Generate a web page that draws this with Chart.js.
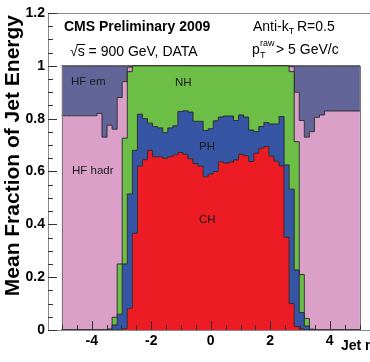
<!DOCTYPE html>
<html>
<head>
<meta charset="utf-8">
<script src="https://cdn.jsdelivr.net/npm/chart.js@4"></script>
<style>
  html, body { margin: 0; padding: 0; background: #fff; overflow: hidden; }
  #wrap { position: absolute; left: 0; top: 0; width: 370px; height: 362px; overflow: hidden; }
  canvas { display: block; }
</style>
</head>
<body>
<div id="wrap"><canvas id="fracChart" width="385" height="362"></canvas></div>
<script>
// jet eta bins: 59 bins of width 0.17, bin centred on eta = 0
const binWidth = 0.17;
const etaEdges = [];
for (let i = 0; i <= 59; i++) etaEdges.push(+(-5.015 + i * binWidth).toFixed(3));

// mean energy fractions per bin
const chFrac = [
  0, 0, 0, 0, 0, 0, 0, 0, 0, 0, 0, 0, 0.005, 0.082, 0.366,
  0.62, 0.645, 0.68, 0.656, 0.656, 0.65, 0.656, 0.663, 0.672, 0.665,
  0.648, 0.63, 0.62, 0.58, 0.59, 0.6, 0.637, 0.632, 0.636, 0.644,
  0.665, 0.66, 0.638, 0.669, 0.688, 0.695, 0.658, 0.639, 0.621, 0.351,
  0.1, 0.013, 0.004, 0, 0, 0, 0, 0, 0, 0, 0, 0, 0, 0
];
const phFrac = [
  0, 0, 0, 0, 0, 0, 0, 0, 0, 0, 0.019, 0.06, 0.245, 0.433, 0.314,
  0.197, 0.155, 0.103, 0.114, 0.109, 0.097, 0.109, 0.11, 0.155, 0.165,
  0.177, 0.16, 0.17, 0.175, 0.172, 0.192, 0.169, 0.178, 0.174, 0.149,
  0.149, 0.146, 0.119, 0.082, 0.082, 0.09, 0.122, 0.141, 0.187, 0.274,
  0.433, 0.214, 0.062, 0.015, 0, 0, 0, 0, 0, 0, 0, 0, 0, 0
];
const nhFrac = [
  0, 0, 0, 0, 0, 0, 0, 0, 0, 0.004, 0.029, 0.19, 0.476, 0.463, 0.32,
  0.183, 0.2, 0.217, 0.23, 0.235, 0.253, 0.235, 0.227, 0.173, 0.17,
  0.175, 0.21, 0.21, 0.245, 0.238, 0.208, 0.194, 0.19, 0.19, 0.207,
  0.186, 0.194, 0.243, 0.249, 0.23, 0.215, 0.22, 0.22, 0.192, 0.375,
  0.445, 0.486, 0.144, 0.029, 0.003, 0, 0, 0, 0, 0, 0, 0, 0, 0
];
const hfHadFrac = [
  0.811, 0.811, 0.811, 0.811, 0.811, 0.811, 0.811, 0.82, 0.73, 0.771, 0.712, 0.63, 0.214, 0.017, 0,
  0, 0, 0, 0, 0, 0, 0, 0, 0, 0,
  0, 0, 0, 0, 0, 0, 0, 0, 0, 0,
  0, 0, 0, 0, 0, 0, 0, 0, 0, 0,
  0.019, 0.187, 0.583, 0.686, 0.748, 0.805, 0.814, 0.829, 0.829, 0.829, 0.829, 0.829, 0.829, 0.829
];
const hfEmFrac = [
  0.189, 0.189, 0.189, 0.189, 0.189, 0.189, 0.189, 0.18, 0.27, 0.225, 0.24, 0.12, 0.06, 0.005, 0,
  0, 0, 0, 0, 0, 0, 0, 0, 0, 0,
  0, 0, 0, 0, 0, 0, 0, 0, 0, 0,
  0, 0, 0, 0, 0, 0, 0, 0, 0, 0,
  0.003, 0.1, 0.207, 0.27, 0.249, 0.195, 0.186, 0.171, 0.171, 0.171, 0.171, 0.171, 0.171, 0.171
];

const xTickValues = [-4, -2, 0, 2, 4];
const yTickValues = [0, 0.2, 0.4, 0.6, 0.8, 1, 1.2];

const series = [
  { label: 'CH', values: chFrac, color: '#ed1c24' },
  { label: 'PH', values: phFrac, color: '#3755a5' },
  { label: 'NH', values: nhFrac, color: '#6cbe46' },
  { label: 'HF hadr', values: hfHadFrac, color: '#daa0c8' },
  { label: 'HF em', values: hfEmFrac, color: '#636599' }
];

const FONT = "'Liberation Sans', Arial, sans-serif";
const outline = 'rgba(35,35,35,0.9)';
const axisGray = '#8a8a8a';

// histogram as step line: one point per left edge, plus the last right edge
function stepData(values) {
  const pts = values.map((v, i) => ({ x: etaEdges[i], y: v }));
  pts.push({ x: etaEdges[values.length], y: values[values.length - 1] });
  return pts;
}

const decor = {
  id: 'decor',
  afterDraw(chart) {
    const ctx = chart.ctx;
    const a = chart.chartArea;
    const xs = chart.scales.x, ys = chart.scales.y;
    ctx.save();

    // top frame and bottom axis line over the fills
    ctx.strokeStyle = axisGray;
    ctx.lineWidth = 1;
    ctx.beginPath();
    ctx.moveTo(a.left, Math.round(a.top) + 0.5);
    ctx.lineTo(a.right, Math.round(a.top) + 0.5);
    ctx.moveTo(a.left, Math.round(a.bottom) + 0.5);
    ctx.lineTo(a.right, Math.round(a.bottom) + 0.5);
    ctx.stroke();

    // outer edges of the histogram
    ctx.strokeStyle = '#777';
    [etaEdges[0], etaEdges[etaEdges.length - 1]].forEach(e => {
      const px = Math.round(xs.getPixelForValue(e)) + 0.5;
      ctx.beginPath();
      ctx.moveTo(px, ys.getPixelForValue(0));
      ctx.lineTo(px, ys.getPixelForValue(1));
      ctx.stroke();
    });

    // inward ticks
    ctx.strokeStyle = '#333';
    for (let k = 0; k <= 24; k++) {
      const v = k * 0.05;
      const py = Math.round(ys.getPixelForValue(v)) + 0.5;
      const len = k % 4 === 0 ? 9 : 5;
      ctx.beginPath();
      ctx.moveTo(a.left, py);
      ctx.lineTo(a.left + len, py);
      ctx.stroke();
    }
    for (let k = -10; k <= 10; k++) {
      const v = k * 0.5;
      const px = Math.round(xs.getPixelForValue(v)) + 0.5;
      const len = k % 4 === 0 ? 9 : 5;
      ctx.beginPath();
      ctx.moveTo(px, a.bottom);
      ctx.lineTo(px, a.bottom - len);
      ctx.stroke();
    }

    ctx.fillStyle = '#000';
    ctx.textBaseline = 'middle';
    ctx.textAlign = 'left';

    // header texts
    ctx.font = 'bold 14px ' + FONT;
    ctx.fillText('CMS Preliminary 2009', 64, 27);

    ctx.font = '14px ' + FONT;
    const sx = 70;
    ctx.fillText('\u221As = 900 GeV, DATA', sx, 52);
    const w1 = ctx.measureText('\u221A').width;
    const w2 = ctx.measureText('\u221As').width;
    ctx.beginPath();
    ctx.moveTo(sx + w1 - 1, 44.5);
    ctx.lineTo(sx + w2 + 0.5, 44.5);
    ctx.strokeStyle = '#000';
    ctx.stroke();

    ctx.fillText('Anti-k', 253, 27);
    const w = ctx.measureText('Anti-k').width;
    ctx.font = '9px ' + FONT;
    ctx.fillText('T', 253 + w, 32);
    ctx.font = '14px ' + FONT;
    ctx.fillText('R=0.5', 297, 27);

    ctx.fillText('p', 252, 50);
    ctx.font = '9px ' + FONT;
    ctx.fillText('T', 260, 56);
    ctx.fillText('raw', 260, 44);
    ctx.font = '14px ' + FONT;
    ctx.fillText('> 5 GeV/c', 276, 50);

    // component labels
    ctx.fillStyle = '#1a1a1a';
    ctx.font = '11.5px ' + FONT;
    ctx.fillText('HF em', 71, 82);
    ctx.fillText('HF hadr', 72, 171);
    ctx.fillText('NH', 175, 83);
    ctx.fillText('PH', 199, 147);
    ctx.fillText('CH', 199, 220);

    // axis titles
    ctx.fillStyle = '#000';
    ctx.font = 'bold 14px ' + FONT;
    ctx.fillText('Jet \u03B7', 341, 346);

    ctx.save();
    ctx.translate(19, 15);
    ctx.rotate(-Math.PI / 2);
    ctx.textAlign = 'right';
    ctx.textBaseline = 'alphabetic';
    ctx.font = 'bold 21px ' + FONT;
    ctx.fillText('Mean Fraction of Jet Energy', 0, 0);
    ctx.restore();

    ctx.restore();
  }
};

new Chart(document.getElementById('fracChart'), {
  type: 'line',
  data: {
    datasets: series.map((s, k) => ({
      label: s.label,
      data: stepData(s.values),
      backgroundColor: s.color,
      borderColor: outline,
      borderWidth: 1,
      stepped: true,
      pointRadius: 0,
      tension: 0,
      fill: k === 0 ? 'origin' : '-1'
    }))
  },
  options: {
    responsive: false,
    devicePixelRatio: 1,
    animation: false,
    layout: { padding: { left: 0, top: 13, right: 11.5, bottom: 0 } },
    plugins: { legend: { display: false }, tooltip: { enabled: false } },
    scales: {
      x: {
        type: 'linear',
        min: -5.47,
        max: 5.47,
        afterBuildTicks: s => { s.ticks = xTickValues.map(v => ({ value: v })); },
        afterFit: s => { s.height = 32; },
        grid: { display: false, drawTicks: false },
        border: { display: true, color: axisGray, width: 1 },
        ticks: {
          padding: 3,
          color: '#000',
          font: { family: FONT, size: 14, weight: 'bold' },
          maxRotation: 0,
          callback: v => String(v)
        }
      },
      y: {
        stacked: true,
        min: 0,
        max: 1.2,
        afterBuildTicks: s => { s.ticks = yTickValues.map(v => ({ value: v })); },
        afterFit: s => { s.width = 48; },
        grid: { display: false, drawTicks: false },
        border: { display: true, color: axisGray, width: 1 },
        ticks: {
          padding: 3,
          color: '#000',
          font: { family: FONT, size: 14, weight: 'bold' },
          callback: v => String(+v.toFixed(1))
        }
      }
    }
  },
  plugins: [decor]
});
</script>
</body>
</html>
